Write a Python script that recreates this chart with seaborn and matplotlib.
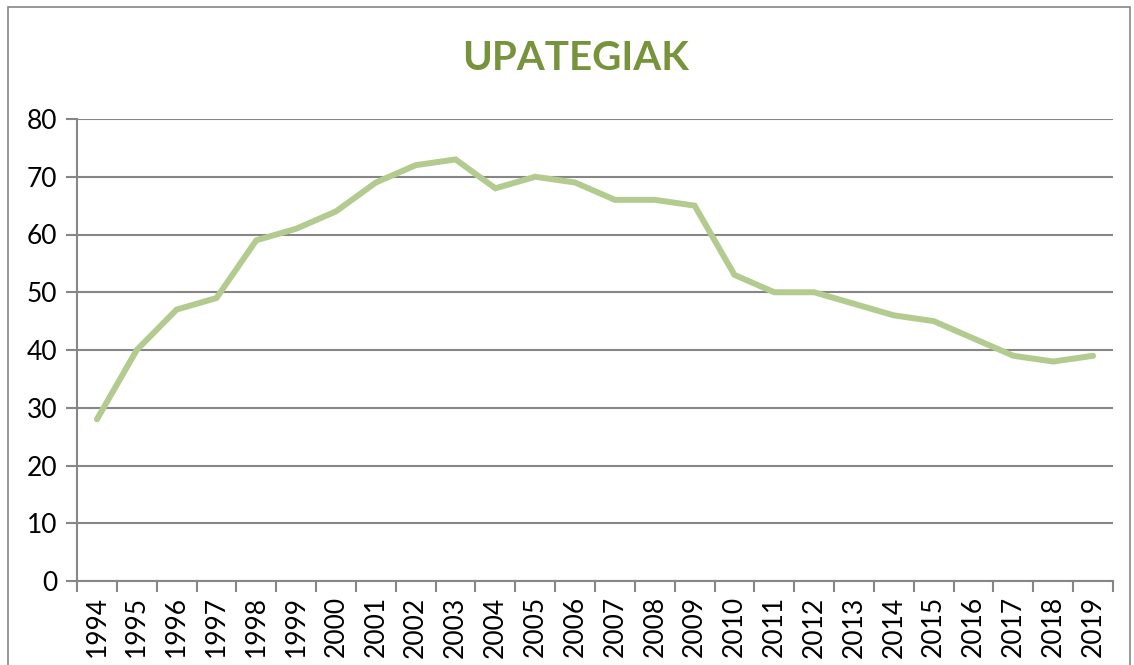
import matplotlib
matplotlib.use("Agg")
import matplotlib.pyplot as plt
import seaborn as sns
import pandas as pd
import numpy as np
from matplotlib.patches import Rectangle
from matplotlib.ticker import FixedLocator

years = ["1994", "1995", "1996", "1997", "1998", "1999", "2000", "2001", "2002",
         "2003", "2004", "2005", "2006", "2007", "2008", "2009", "2010", "2011",
         "2012", "2013", "2014", "2015", "2016", "2017", "2018", "2019"]
values = [28, 40, 47, 49, 59, 61, 64, 69, 72, 73, 68, 70, 69, 66, 66, 65,
          53, 50, 50, 48, 46, 45, 42, 39, 38, 39]
title = "UPATEGIAK"
yticks = [0, 10, 20, 30, 40, 50, 60, 70, 80]

sns.set_theme(style="white")
plt.rcParams['font.family'] = ['Lato', 'DejaVu Sans']

df = pd.DataFrame({"pos": np.arange(len(years)), "value": values})

W, H = 1134, 665
fig = plt.figure(figsize=(W / 100, H / 100), dpi=100)
ax = fig.add_axes([77 / W, 1 - 581 / H, (1113 - 77) / W, (581 - 119) / H])

sns.lineplot(data=df, x="pos", y="value", ax=ax, color="#B3CB8E", linewidth=4.3,
             solid_capstyle="round", solid_joinstyle="miter")

ax.set_xlim(-0.5, len(years) - 0.5)
ax.set_ylim(0, 80)
ax.set_yticks(yticks)
ax.set_yticklabels([str(t) for t in yticks], fontsize=19, color="black")
ax.set_xticks(np.arange(len(years)))
ax.set_xticklabels(years, rotation=90, fontsize=19, color="black")
ax.xaxis.set_minor_locator(FixedLocator(np.arange(-0.5, len(years), 1.0)))
ax.tick_params(axis="x", which="major", length=0, pad=11)
ax.tick_params(axis="x", which="minor", length=8, width=1.5, color="#868686", direction="out", bottom=True)
ax.tick_params(axis="y", which="major", length=8, width=1.5, color="#868686", direction="out", left=True, pad=6)
ax.set_xlabel("")
ax.set_ylabel("")

ax.grid(axis="y", color="#868686", linewidth=1.5)
ax.grid(axis="x", visible=False)
ax.set_axisbelow(True)
for s in ["top", "right"]:
    ax.spines[s].set_visible(False)
for s in ["left", "bottom"]:
    ax.spines[s].set_color("#868686")
    ax.spines[s].set_linewidth(1.5)

fig.text(576 / W, 1 - 59 / H, title, ha="center", va="center", fontsize=29,
         fontweight="bold", color="#77933C")

fig.patches.append(Rectangle((8 / W, -0.05), (1130 - 8) / W, 1.05 - 7 / H,
                             transform=fig.transFigure, fill=False,
                             edgecolor="#868686", linewidth=1.2))

fig.savefig("out.png", dpi=100)
